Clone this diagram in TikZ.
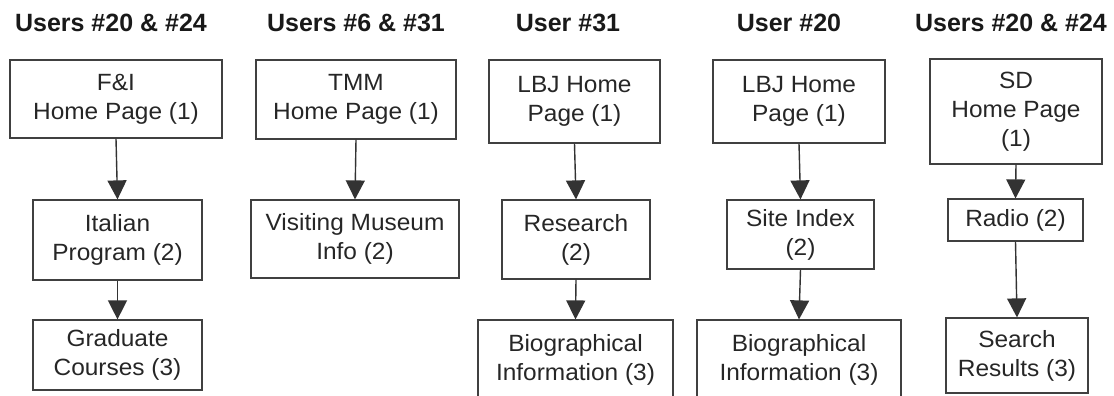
\documentclass[tikz,border=0pt]{standalone}
\usepackage{fontspec}
\setmainfont{Liberation Sans}
\newfontfamily\pagefont[FakeStretch=1.04]{Liberation Sans}
\usetikzlibrary{arrows.meta}

\begin{document}
\begin{tikzpicture}[x=1pt,y=-1pt,
  page/.style={draw=black!75, line width=1.2pt, align=center, inner sep=2pt,
    font=\pagefont\fontsize{23.5}{29}\selectfont, text=black!85},
  who/.style={font=\bfseries\fontsize{25}{30}\selectfont, text=black!90},
  link/.style={draw=black!80, line width=1.4pt, -{Triangle[length=19pt,width=19pt]}}]
\useasboundingbox (0,0) rectangle (1114,396);
% column headings
\node[who] (u1) at (111,23) {Users \#20 \& \#24};
\node[who] (u2) at (356,23) {Users \#6 \& \#31};
\node[who] (u3) at (568,23) {User \#31};
\node[who] (u4) at (789,23) {User \#20};
\node[who] (u5) at (1011,23) {Users \#20 \& \#24};
% F&I
\node[page, minimum width=212, minimum height=78] (fi1) at (116,99) {F\&I\\Home Page (1)};
\node[page, minimum width=169, minimum height=80] (fi2) at (117.5,240) {Italian\\Program (2)};
\node[page, minimum width=169, minimum height=70] (fi3) at (117.5,355) {Graduate\\Courses (3)};
% TMM
\node[page, minimum width=200, minimum height=79] (tmm1) at (356,99.5) {TMM\\Home Page (1)};
\node[page, minimum width=208, minimum height=78] (tmm2) at (355,239) {Visiting Museum\\Info (2)};
% LBJ, user 31
\node[page, minimum width=171, minimum height=83] (lbja1) at (574.5,101.5) {LBJ Home\\Page (1)};
\node[page, minimum width=148, minimum height=79] (lbja2) at (576,239.5) {Research\\(2)};
\node[page, minimum width=195, minimum height=80] (lbja3) at (575.5,360) {Biographical\\Information (3)};
% LBJ, user 20
\node[page, minimum width=172, minimum height=83] (lbjb1) at (799,101.5) {LBJ Home\\Page (1)};
\node[page, minimum width=147, minimum height=69] (lbjb2) at (800.5,234.5) {Site Index\\(2)};
\node[page, minimum width=204, minimum height=80] (lbjb3) at (799,360) {Biographical\\Information (3)};
% SD
\node[page, minimum width=172, minimum height=105] (sd1) at (1016,111.5) {SD\\Home Page\\(1)};
\node[page, minimum width=135, minimum height=42] (sd2) at (1015.5,220) {Radio (2)};
\node[page, minimum width=142, minimum height=75] (sd3) at (1017,355.5) {Search\\Results (3)};
% paths
\draw[link] (fi1.south) -- (fi2.north);
\draw[link] (fi2.south) -- (fi3.north);
\draw[link] (tmm1.south) -- (tmm2.north);
\draw[link] (lbja1.south) -- (lbja2.north);
\draw[link] (lbja2.south) -- (lbja3.north);
\draw[link] (lbjb1.south) -- (lbjb2.north);
\draw[link] (lbjb2.south) -- (lbjb3.north);
\draw[link] (sd1.south) -- (sd2.north);
\draw[link] (sd2.south) -- (sd3.north);
\end{tikzpicture}
\end{document}
